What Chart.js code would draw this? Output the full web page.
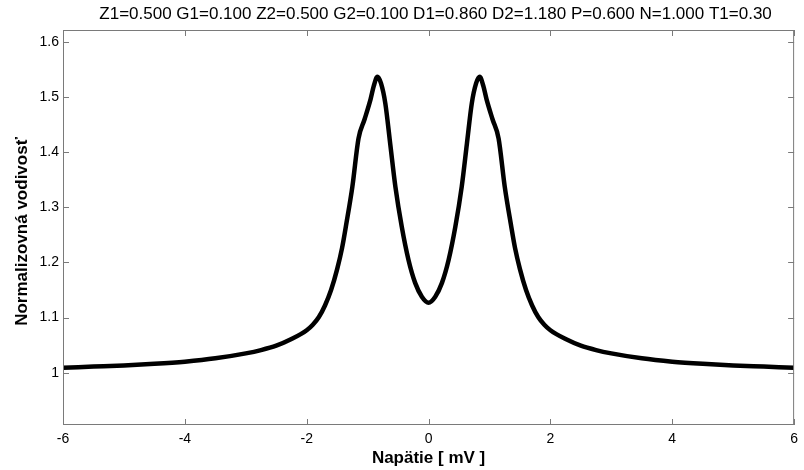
<!DOCTYPE html>
<html>
<head>
<meta charset="utf-8">
<script src="https://cdn.jsdelivr.net/npm/chart.js@4"></script>
<style>
  html, body { margin: 0; padding: 0; background: #fff; }
  #wrap { width: 804px; height: 470px; }
</style>
</head>
<body>
<div id="wrap"><canvas id="chart" width="804" height="470"></canvas></div>
<script>
const TITLE = 'Z1=0.500 G1=0.100 Z2=0.500 G2=0.100 D1=0.860 D2=1.180 P=0.600 N=1.000 T1=0.30';
const X_TITLE = 'Napätie [ mV ]';
const Y_TITLE = 'Normalizovná vodivosť';

const xTicks = [-6, -4, -2, 0, 2, 4, 6];
const yTicks = [1, 1.1, 1.2, 1.3, 1.4, 1.5, 1.6];

const voltage = [
    -6, -5.5, -5, -4.5, -4, -3.5, -3, -2.75, -2.5, -2.25, -2, -1.9, -1.8, -1.7, -1.6, -1.5, -1.42,
    -1.35, -1.25, -1.15, -1.05, -0.95, -0.9, -0.84, -0.78, -0.71, -0.63, -0.545, -0.44,
    -0.33, -0.22, -0.11, 0,
    0.11, 0.22, 0.33, 0.44, 0.545, 0.63, 0.71, 0.78, 0.84, 0.9, 0.95, 1.05, 1.15, 1.25,
    1.35, 1.42, 1.5, 1.6, 1.7, 1.8, 1.9, 2, 2.25, 2.5, 2.75, 3, 3.5, 4, 4.5, 5, 5.5, 6
];
const conductance = [
    1.009, 1.011, 1.013, 1.016, 1.020, 1.026, 1.035, 1.041, 1.049, 1.061, 1.077, 1.087, 1.101, 1.122, 1.150, 1.188, 1.226,
    1.270, 1.338, 1.425, 1.460, 1.497, 1.520, 1.537, 1.525, 1.489, 1.416, 1.338, 1.265,
    1.205, 1.163, 1.138, 1.127,
    1.138, 1.163, 1.205, 1.265, 1.338, 1.416, 1.489, 1.525, 1.537, 1.520, 1.497, 1.460, 1.425, 1.338,
    1.270, 1.226, 1.188, 1.150, 1.122, 1.101, 1.087, 1.077, 1.061, 1.049, 1.041, 1.035, 1.026, 1.020, 1.016, 1.013, 1.011, 1.009
];

const FONT = '"Liberation Sans", Arial, Helvetica, sans-serif';
const BOX_COLOR = '#7a7a7a';

// box, inward ticks on all four sides, title and axis titles
const decor = {
    id: 'decor',
    afterDatasetsDraw(chart) {
        const { ctx, chartArea: a, scales } = chart;
        ctx.save();
        ctx.strokeStyle = BOX_COLOR;
        ctx.lineWidth = 1;
        ctx.strokeRect(a.left + 0.5, a.top + 0.5, a.right - a.left - 1, a.bottom - a.top - 1);
        ctx.beginPath();
        xTicks.forEach(v => {
            const px = Math.round(scales.x.getPixelForValue(v)) + 0.5;
            ctx.moveTo(px, a.bottom); ctx.lineTo(px, a.bottom - 6);
            ctx.moveTo(px, a.top); ctx.lineTo(px, a.top + 6);
        });
        yTicks.forEach(v => {
            const py = Math.round(scales.y.getPixelForValue(v)) + 0.5;
            ctx.moveTo(a.left, py); ctx.lineTo(a.left + 6, py);
            ctx.moveTo(a.right, py); ctx.lineTo(a.right - 6, py);
        });
        ctx.stroke();

        ctx.fillStyle = '#000';
        ctx.textAlign = 'center';
        ctx.textBaseline = 'middle';
        ctx.font = '17px ' + FONT;
        ctx.fillText(TITLE, (a.left + a.right) / 2 + 7, 14);
        ctx.font = 'bold 17px ' + FONT;
        ctx.fillText(X_TITLE, (a.left + a.right) / 2, 458);
        ctx.translate(22, (a.top + a.bottom) / 2 + 4);
        ctx.rotate(-Math.PI / 2);
        ctx.fillText(Y_TITLE, 0, 0);
        ctx.restore();
    }
};

new Chart(document.getElementById('chart'), {
    type: 'line',
    data: {
        datasets: [{
            data: voltage.map((v, i) => ({ x: v, y: conductance[i] })),
            borderColor: '#000',
            borderWidth: 4.5,
            pointRadius: 0,
            fill: false,
            cubicInterpolationMode: 'monotone'
        }]
    },
    options: {
        responsive: false,
        animation: false,
        layout: { padding: { top: 30, right: 7, left: 0, bottom: 0 } },
        plugins: { legend: { display: false }, tooltip: { enabled: false } },
        scales: {
            x: {
                type: 'linear',
                min: -6,
                max: 6,
                afterBuildTicks: s => { s.ticks = xTicks.map(v => ({ value: v })); },
                afterFit: s => { s.height = 45; },
                grid: { display: false, drawTicks: false },
                border: { display: false },
                ticks: {
                    color: '#000',
                    padding: 6,
                    maxRotation: 0,
                    font: { family: FONT, size: 14 },
                    callback: v => String(v)
                }
            },
            y: {
                min: 0.905,
                max: 1.622,
                afterBuildTicks: s => { s.ticks = yTicks.map(v => ({ value: v })); },
                afterFit: s => { s.width = 63; },
                grid: { display: false, drawTicks: false },
                border: { display: false },
                ticks: {
                    color: '#000',
                    padding: 4,
                    font: { family: FONT, size: 14 },
                    callback: v => String(Number(v.toFixed(1)))
                }
            }
        }
    },
    plugins: [decor]
});
</script>
</body>
</html>
